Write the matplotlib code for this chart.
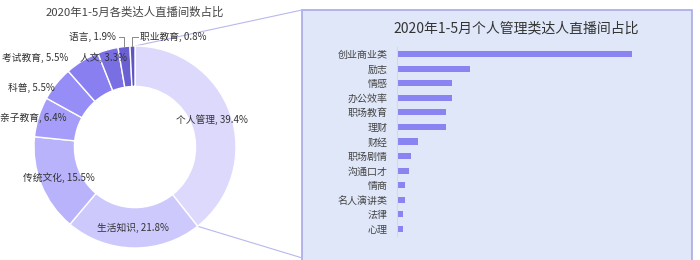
import numpy as np
import matplotlib.pyplot as plt
from matplotlib.patches import Rectangle, ConnectionPatch

plt.rcParams['font.family'] = ['Noto Sans CJK SC', 'DejaVu Sans']

PIE_TITLE = "2020年1-5月各类达人直播间数占比"
PIE_LABELS = ["个人管理", "生活知识", "传统文化", "亲子教育", "科普",
              "考试教育", "人文", "语言", "职业教育"]
PIE_VALUES = [39.4, 21.8, 15.5, 6.4, 5.5, 5.5, 3.3, 1.9, 0.8]
PIE_COLORS = ["#dcd9fd", "#cdc9fc", "#b9b3fb", "#a59df9", "#978df6",
              "#8a7ff0", "#7a6ee3", "#6b60d2", "#5f55c4"]

BAR_TITLE = "2020年1-5月个人管理类达人直播间占比"
BAR_LABELS = ["创业商业类", "励志", "情感", "办公效率", "职场教育", "理财", "财经",
              "职场剧情", "沟通口才", "情商", "名人演讲类", "法律", "心理"]
BAR_VALUES = [39.9, 12.4, 9.3, 9.3, 8.4, 8.3, 3.5, 2.3, 2.0, 1.3, 1.3, 1.0, 1.0]
BAR_COLOR = "#8a84f3"

TEXT_COLOR = "#444444"
LINE_COLOR = "#b8b8ee"

W, H = 700, 260

fig = plt.figure(figsize=(7, 2.6), dpi=100)
fig.patch.set_facecolor("white")

# ---- right panel background box
box_l, box_r, box_t = 302 / W, 692 / W, (H - 10) / H
fig.patches.append(Rectangle((box_l, -0.02), box_r - box_l, box_t + 0.02,
                             transform=fig.transFigure, facecolor="#dfe7f8",
                             edgecolor="#a9a9e6", linewidth=1.2, zorder=-2))

# ---- donut
cx, cy, R = 135, 147, 101
ax = fig.add_axes([(cx - R) / W, (H - cy - R) / H, 2 * R / W, 2 * R / H])
wedges, _ = ax.pie(PIE_VALUES, colors=PIE_COLORS, startangle=90, counterclock=False,
                   radius=1, wedgeprops=dict(width=0.4, edgecolor="white", linewidth=1))
ax.set_xlim(-1, 1)
ax.set_ylim(-1, 1)
ax.set_aspect("auto")
ax.axis("off")

fig.text(cx / W, (H - 12) / H, PIE_TITLE, ha="center", va="center",
         fontsize=8.2, color=TEXT_COLOR)

# label positions in donut units
label_pos = [(0.762, 0.267, "center"), (-0.02, -0.80, "center"), (-0.757, -0.307, "center"),
             (-0.683, 0.287, "right"), (-0.792, 0.584, "right"), (-0.663, 0.881, "right"),
             (-0.312, 0.881, "center")]
lab_fs = 7
for (x, y, ha), name, val in zip(label_pos, PIE_LABELS, PIE_VALUES):
    ax.text(x, y, f"{name}, {val}%", ha=ha, va="center", fontsize=lab_fs,
            color="#333333", clip_on=False, zorder=5)

# small slices with leader lines
lead_y = 1.089
for i, side in ((7, -1), (8, 1)):
    w = wedges[i]
    mid = np.deg2rad((w.theta1 + w.theta2) / 2)
    ox, oy = np.cos(mid), np.sin(mid)
    ax.plot([ox, ox, ox + side * 0.05], [oy, lead_y, lead_y], color="#888888",
            lw=0.7, clip_on=False, zorder=4)
    ax.text(ox + side * 0.075, lead_y, f"{PIE_LABELS[i]}, {PIE_VALUES[i]}%",
            ha="right" if side < 0 else "left", va="center", fontsize=lab_fs,
            color="#333333", clip_on=False, zorder=5)

# connector lines from the first slice to the box
w0 = wedges[0]
for ang, fy in ((w0.theta2, box_t), (w0.theta1, 0.008)):
    a = np.deg2rad(ang)
    con = ConnectionPatch(xyA=(np.cos(a), np.sin(a)), coordsA=ax.transData,
                          xyB=(box_l, fy), coordsB=fig.transFigure,
                          color=LINE_COLOR, lw=0.8, zorder=-1)
    fig.add_artist(con)

# ---- bar chart
y_top, y_bot = 46.7, 236.3
bx = fig.add_axes([397 / W, (H - y_bot) / H, 283 / W, (y_bot - y_top) / H])
bx.set_facecolor("none")
ypos = np.arange(len(BAR_VALUES))
bx.barh(ypos, BAR_VALUES, height=0.42, color=BAR_COLOR)
bx.set_ylim(len(BAR_VALUES) - 0.5, -0.5)
bx.set_xlim(0, 48.1)
bx.set_yticks(ypos)
bx.set_yticklabels(BAR_LABELS, fontsize=7.2, color=TEXT_COLOR)
bx.tick_params(axis="y", length=0, pad=6.5)
bx.set_xticks([])
for s in ("top", "right", "bottom"):
    bx.spines[s].set_visible(False)
bx.spines["left"].set_color("#d3d9ea")
bx.spines["left"].set_linewidth(0.8)

fig.text(516 / W, (H - 28) / H, BAR_TITLE, ha="center", va="center",
         fontsize=10, color="#333333")

fig.savefig("out.png", dpi=100)
